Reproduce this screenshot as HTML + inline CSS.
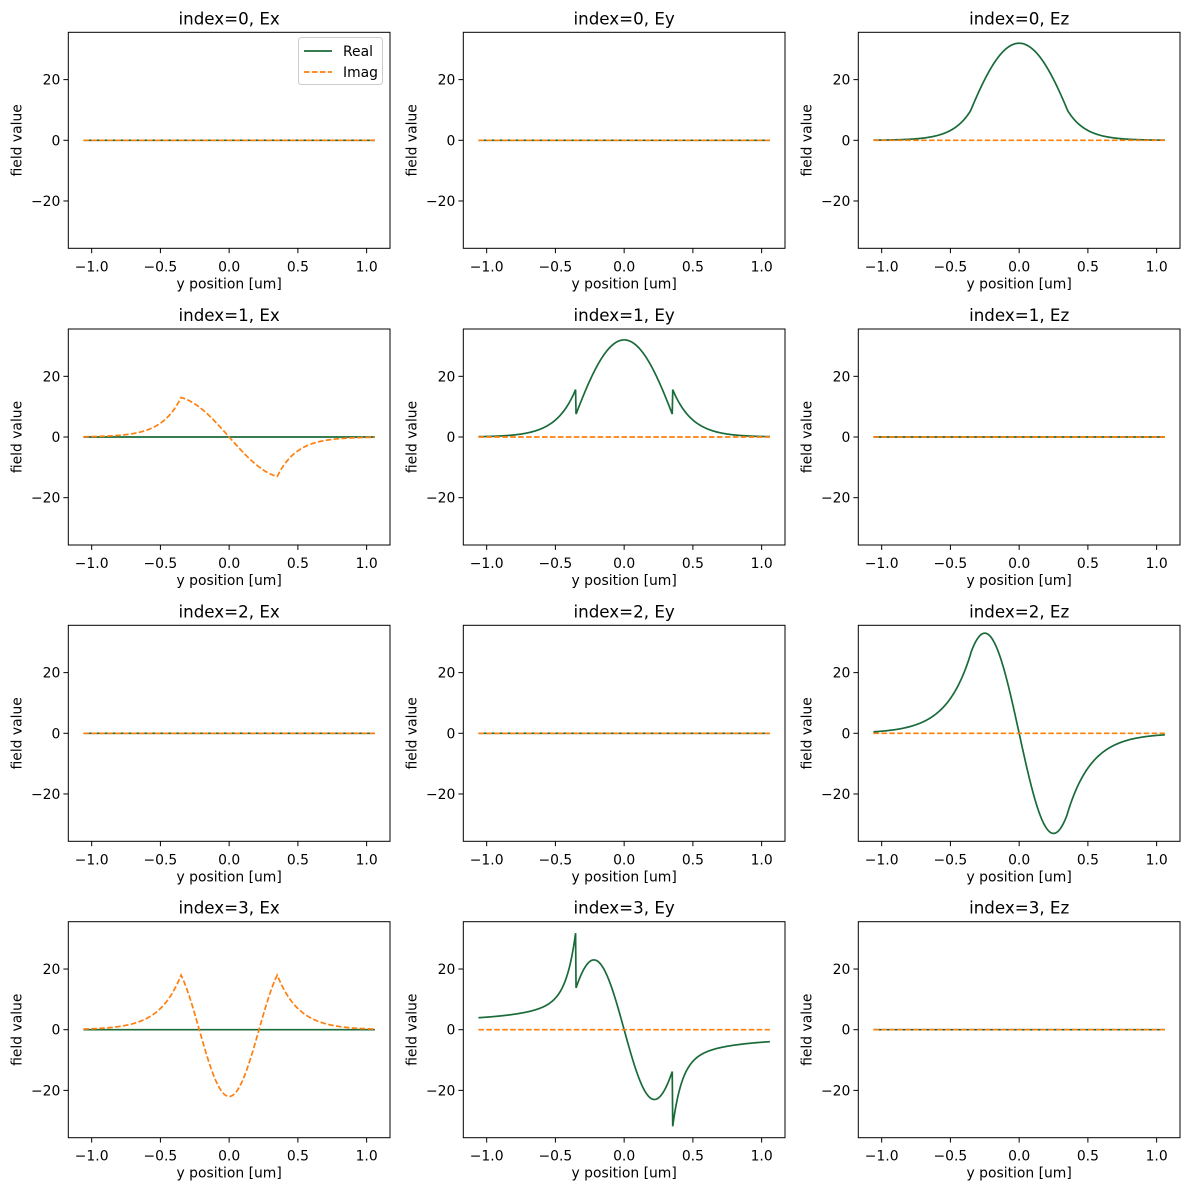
<!DOCTYPE html>
<html><head><meta charset="utf-8"><style>
html,body{margin:0;padding:0;background:#fff;}
svg{display:block;}
text{font-family:"DejaVu Sans","Liberation Sans",sans-serif;fill:#000;}
</style></head><body>
<svg id="s" width="1189" height="1190" xmlns="http://www.w3.org/2000/svg"></svg>
<script>
const G="#1a6b3a",O="#ff7f0e";
const L=[68.3,463.3,858.3], W=321.7, T=[32.3,329,625.3,921.7], H=216;
const YL=35.6, XL=-1.17, XR=1.17;
function cin(y,d){return Math.abs(y)<d;}
const z=y=>0;
const F={
 "0,2":y=>cin(y,0.35)?32*Math.cos(3.57*y):10*Math.exp(-7.5*(Math.abs(y)-0.35)),
 "1,1":y=>cin(y,0.35)?32*Math.cos(3.81*y):16*Math.exp(-7*(Math.abs(y)-0.35)),
 "1,0i":y=>cin(y,0.35)?-13.4*Math.sin(3.81*y):-Math.sign(y)*13*Math.exp(-7*(Math.abs(y)-0.35)),
 "2,2":y=>cin(y,0.35)?-33*Math.sin(6.28*y):-Math.sign(y)*26.6*Math.exp(-5.6*(Math.abs(y)-0.35)),
 "3,0i":y=>cin(y,0.35)?-22*Math.cos(7.23*y):18*Math.exp(-6.3*(Math.abs(y)-0.35)),
 "3,1":y=>{if(cin(y,0.35))return -23*Math.sin(7.14*y);const d=Math.abs(y)-0.35;return -Math.sign(y)*(3+22*Math.exp(-15*d)+8*Math.exp(-3*d));}
};
const comps=["Ex","Ey","Ez"];
let h="";
for(let r=0;r<4;r++)for(let c=0;c<3;c++){
 const x0=L[c],y0=T[r];
 const X=v=>x0+(v-XL)/(XR-XL)*W, Y=v=>y0+H/2-v/(2*YL)*H;
 const path=f=>{let p="";const N=600;for(let i=0;i<=N;i++){const v=-1.06+2.12*i/N;p+=(i?"L":"M")+X(v).toFixed(2)+" "+Y(f(v)).toFixed(2);}return p;};
 const fr=F[r+","+c]||z, fi=F[r+","+c+"i"]||z;
 h+=`<path d="${path(fr)}" fill="none" stroke="${G}" stroke-width="1.7"/>`;
 h+=`<path d="${path(fi)}" fill="none" stroke="${O}" stroke-width="1.7" stroke-dasharray="5.55 2.4"/>`;
 h+=`<rect x="${x0}" y="${y0}" width="${W}" height="${H}" fill="none" stroke="#000" stroke-width="1"/>`;
 [-1,-0.5,0,0.5,1].forEach(v=>{const xx=X(v);h+=`<line x1="${xx}" y1="${y0+H}" x2="${xx}" y2="${y0+H+4.9}" stroke="#000"/><text x="${xx}" y="${y0+H+23}" font-size="13.9" text-anchor="middle">${v<0?"\u2212":""}${Math.abs(v).toFixed(1)}</text>`;});
 [-20,0,20].forEach(v=>{const yy=Y(v);h+=`<line x1="${x0}" y1="${yy}" x2="${x0-4.9}" y2="${yy}" stroke="#000"/><text x="${x0-8}" y="${yy+5}" font-size="13.9" text-anchor="end">${v<0?"\u2212":""}${Math.abs(v)}</text>`;});
 h+=`<text x="${x0+W/2}" y="${y0+H+40}" font-size="13.9" text-anchor="middle">y position [um]</text>`;
 h+=`<text transform="translate(${x0-47},${y0+H/2}) rotate(-90)" font-size="13.9" text-anchor="middle">field value</text>`;
 h+=`<text x="${x0+W/2}" y="${y0-8}" font-size="16.7" text-anchor="middle">index=${r}, ${comps[c]}</text>`;
}
h+=`<rect x="298.5" y="37.5" width="84" height="47" rx="3" fill="#fff" fill-opacity="0.8" stroke="#ccc"/>`;
h+=`<line x1="304" y1="51" x2="332" y2="51" stroke="${G}" stroke-width="1.7"/><text x="343" y="56" font-size="13.9">Real</text>`;
h+=`<line x1="304" y1="72" x2="332" y2="72" stroke="${O}" stroke-width="1.7" stroke-dasharray="5.55 2.4"/><text x="343" y="77" font-size="13.9">Imag</text>`;
document.getElementById("s").innerHTML=h;
</script>
</body></html>
